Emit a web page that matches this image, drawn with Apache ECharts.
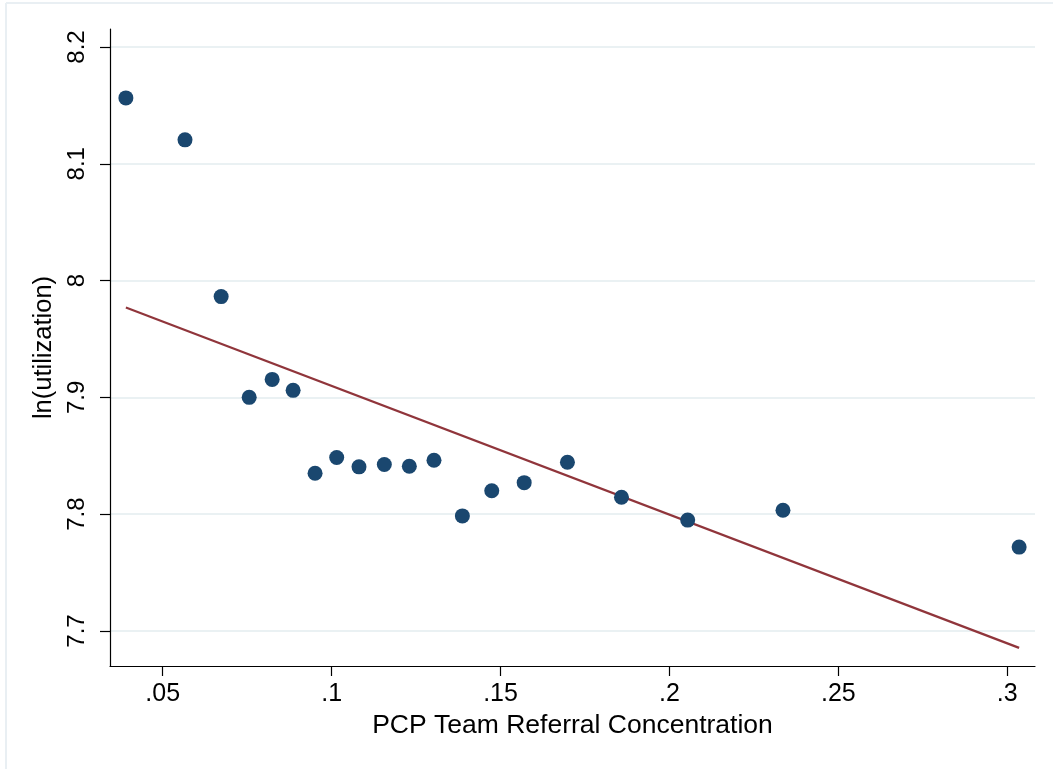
<!DOCTYPE html>
<html>
<head>
<meta charset="utf-8">
<script src="https://cdn.jsdelivr.net/npm/echarts@6.0.0/dist/echarts.min.js"></script>
<style>
  html, body { margin: 0; padding: 0; background: #fff; }
  #chart { width: 1053px; height: 769px; }
</style>
</head>
<body>
<div id="chart"></div>
<script>
// binned scatter: referral concentration vs ln(utilization)
const concentration = [0.0391, 0.0566, 0.0673, 0.0756, 0.0824, 0.0886, 0.0951, 0.1015, 0.1081, 0.1156,
  0.1230, 0.1303, 0.1387, 0.1474, 0.1570, 0.1698, 0.1858, 0.2054, 0.2336, 0.3035];
const lnUtil = [8.1564, 8.1205, 7.9863, 7.9000, 7.9154, 7.9060, 7.8350, 7.8485, 7.8405, 7.8425,
  7.8410, 7.8462, 7.7985, 7.8200, 7.8270, 7.8445, 7.8145, 7.7949, 7.8034, 7.7718];
// linear fit endpoints
const fitX = [0.0391, 0.3035];
const fitY = [7.9769, 7.6855];

const xTicks = [0.05, 0.1, 0.15, 0.2, 0.25, 0.3];
const yTicks = [7.7, 7.8, 7.9, 8.0, 8.1, 8.2];

const font = 'Liberation Sans, Arial, Helvetica, sans-serif';

var myChart = echarts.init(document.getElementById('chart'));

var option = {
  animation: false,
  backgroundColor: '#ffffff',
  grid: { left: 110, right: 18, top: 29, bottom: 103 },
  graphic: [
    { type: 'line', shape: { x1: 6, y1: 3, x2: 1053, y2: 3 }, style: { stroke: '#e9eff3', lineWidth: 2 } },
    { type: 'line', shape: { x1: 6, y1: 3, x2: 6, y2: 769 }, style: { stroke: '#e9eff3', lineWidth: 2 } }
  ],
  xAxis: {
    type: 'value',
    min: 0.0344,
    max: 0.3082,
    name: 'PCP Team Referral Concentration',
    nameLocation: 'middle',
    nameGap: 42,
    nameTextStyle: { fontFamily: font, fontSize: 26.5, color: '#000' },
    axisLine: { show: true, onZero: false, lineStyle: { color: '#000', width: 1.2 } },
    axisTick: { show: true, length: 10, customValues: xTicks, lineStyle: { color: '#000', width: 1.2 } },
    axisLabel: {
      customValues: xTicks,
      margin: 16,
      fontFamily: font,
      fontSize: 25,
      color: '#000',
      formatter: v => String(Number(v.toFixed(3))).replace(/^0/, '')
    },
    splitLine: { show: false }
  },
  yAxis: {
    type: 'value',
    min: 7.670,
    max: 8.2154,
    name: 'ln(utilization)',
    nameLocation: 'middle',
    nameGap: 45,
    nameRotate: 90,
    nameTextStyle: { fontFamily: font, fontSize: 25.5, color: '#000' },
    axisLine: { show: true, onZero: false, lineStyle: { color: '#000', width: 1.2 } },
    axisTick: { show: true, length: 10, customValues: yTicks, lineStyle: { color: '#000', width: 1.2 } },
    axisLabel: {
      customValues: yTicks,
      rotate: 90,
      margin: 21,
      fontFamily: font,
      fontSize: 24,
      color: '#000',
      formatter: v => String(Number(v.toFixed(1)))
    },
    splitLine: { show: true, lineStyle: { color: '#eaf1f3', width: 2 } }
  },
  series: [
    {
      type: 'scatter',
      symbol: 'circle',
      symbolSize: 15,
      itemStyle: { color: '#1a476f', opacity: 1 },
      data: concentration.map((x, i) => [x, lnUtil[i]]),
      z: 3
    },
    {
      type: 'line',
      showSymbol: false,
      symbol: 'none',
      lineStyle: { color: '#90353b', width: 2.2 },
      data: fitX.map((x, i) => [x, fitY[i]]),
      z: 2
    }
  ]
};

myChart.setOption(option);
</script>
</body>
</html>
